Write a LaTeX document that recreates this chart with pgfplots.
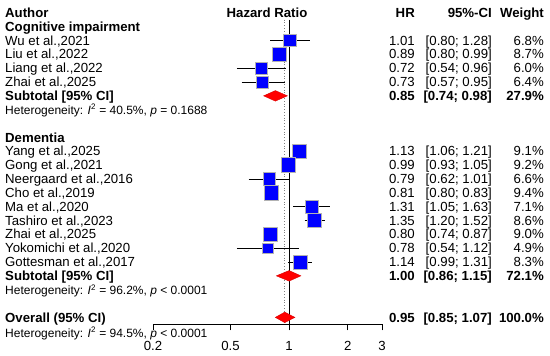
\documentclass[border=0pt]{standalone}
\usepackage{pgfplots}
\pgfplotsset{compat=1.18}
\usepackage{fontspec}
\setmainfont{Liberation Sans}
\newcommand{\mf}{\fontsize{13.2}{15}\selectfont}
\newcommand{\hf}{\fontsize{12}{14}\selectfont}
\newcommand{\B}[1]{338.6-13.85*#1}
% hr, lo, hi, row, half side, whisker colour
\newcommand{\study}[6]{%
 \addplot[only marks, mark=square*, mark size=#5pt, mark options={fill=blue, draw=gray!60, line width=0.6pt}] coordinates {(#1,-#4)};
 \addplot[#6, mark=none, line width=0.8pt] coordinates {(#2,-#4) (#3,-#4)};
}
\newcommand{\diam}[4]{% est lo hi row
 \addplot[fill=red, draw=red!85!black, line width=0.4pt, mark=none] coordinates {(#2,-#4) (#1,{-#4+0.38}) (#3,-#4) (#1,{-#4-0.38})} --cycle;
}
\newcommand{\trow}[5]{%
 \node[anchor=base west, inner sep=0, font=\mf] at (5,{\B{#1}}) {#2};
 \node[anchor=base east, inner sep=0, font=\mf] at (415,{\B{#1}}) {#3};
 \node[anchor=base east, inner sep=0, font=\mf] at (492,{\B{#1}}) {#4};
 \node[anchor=base east, inner sep=0, font=\mf] at (544,{\B{#1}}) {#5};
}
\newcommand{\het}[2]{%
 \node[anchor=base west, inner sep=0, font=\hf] at (5,{\B{#1}}) {#2};
}
\begin{document}
\begin{tikzpicture}[x=1pt,y=1pt]
\useasboundingbox (0,0) rectangle (550,356);
\begin{axis}[
 at={(153pt,31.7pt)}, anchor=south west, scale only axis,
 width=229pt, height=304.6pt,
 xmode=log, xmin=0.2, xmax=3, ymin=-22.5, ymax=-0.5,
 axis x line*=bottom, axis y line=none,
 xtick={0.2,0.5,1,2,3}, xticklabels={0.2,0.5,1,2,3}, minor xtick={},
 xtick align=outside, major tick length=6pt,
 x axis line style={line width=0.8pt},
 every tick/.style={black, line width=0.8pt},
 xticklabel style={font=\mf, anchor=base, yshift=-20.5pt},
 ytick=\empty, clip=false,
]
\addplot[black, line width=0.8pt, mark=none] coordinates {(1,-0.5) (1,-22.5)};
\addplot[gray, dotted, line width=0.8pt, mark=none] coordinates {(0.95,-0.5) (0.95,-22.5)};
\study{1.01}{0.80}{1.28}{2}{6.26}{black}
\study{0.89}{0.80}{0.99}{3}{7.08}{white}
\study{0.72}{0.54}{0.96}{4}{5.88}{black}
\study{0.73}{0.57}{0.95}{5}{6.07}{black}
\diam{0.85}{0.74}{0.98}{6}
\study{1.13}{1.06}{1.21}{10}{7.24}{white}
\study{0.99}{0.93}{1.05}{11}{7.28}{white}
\study{0.79}{0.62}{1.01}{12}{6.17}{black}
\study{0.81}{0.80}{0.83}{13}{7.36}{white}
\study{1.31}{1.05}{1.63}{14}{6.39}{black}
\study{1.35}{1.20}{1.52}{15}{7.04}{black}
\study{0.80}{0.74}{0.87}{16}{7.20}{white}
\study{0.78}{0.54}{1.12}{17}{5.31}{black}
\study{1.14}{0.99}{1.31}{18}{6.91}{black}
\diam{1.00}{0.86}{1.15}{19}
\diam{0.95}{0.85}{1.07}{22}
\end{axis}
\trow{0}{\textbf{Author}}{\textbf{HR}}{\textbf{95\%-CI}}{\textbf{Weight}}
\node[anchor=base, inner sep=0, font=\mf] at (267,{\B{0}}) {\textbf{Hazard Ratio}};
\node[anchor=base west, inner sep=0, font=\mf] at (5,{\B{1}}) {\textbf{Cognitive impairment}};
\trow{2}{Wu et al.,2021}{1.01}{[0.80; 1.28]}{6.8\%}
\trow{3}{Liu et al.,2022}{0.89}{[0.80; 0.99]}{8.7\%}
\trow{4}{Liang et al.,2022}{0.72}{[0.54; 0.96]}{6.0\%}
\trow{5}{Zhai et al.,2025}{0.73}{[0.57; 0.95]}{6.4\%}
\trow{6}{\textbf{Subtotal [95\% CI]}}{\textbf{0.85}}{\textbf{[0.74; 0.98]}}{\textbf{27.9\%}}
\het{7}{Heterogeneity: \textit{I}\textsuperscript{2} = 40.5\%, \textit{p} = 0.1688}
\node[anchor=base west, inner sep=0, font=\mf] at (5,{\B{9}}) {\textbf{Dementia}};
\trow{10}{Yang et al.,2025}{1.13}{[1.06; 1.21]}{9.1\%}
\trow{11}{Gong et al.,2021}{0.99}{[0.93; 1.05]}{9.2\%}
\trow{12}{Neergaard et al.,2016}{0.79}{[0.62; 1.01]}{6.6\%}
\trow{13}{Cho et al.,2019}{0.81}{[0.80; 0.83]}{9.4\%}
\trow{14}{Ma et al.,2020}{1.31}{[1.05; 1.63]}{7.1\%}
\trow{15}{Tashiro et al.,2023}{1.35}{[1.20; 1.52]}{8.6\%}
\trow{16}{Zhai et al.,2025}{0.80}{[0.74; 0.87]}{9.0\%}
\trow{17}{Yokomichi et al.,2020}{0.78}{[0.54; 1.12]}{4.9\%}
\trow{18}{Gottesman et al.,2017}{1.14}{[0.99; 1.31]}{8.3\%}
\trow{19}{\textbf{Subtotal [95\% CI]}}{\textbf{1.00}}{\textbf{[0.86; 1.15]}}{\textbf{72.1\%}}
\het{20}{Heterogeneity: \textit{I}\textsuperscript{2} = 96.2\%, \textit{p} {\textless} 0.0001}
\trow{22}{\textbf{Overall (95\% CI)}}{\textbf{0.95}}{\textbf{[0.85; 1.07]}}{\textbf{100.0\%}}
\het{23.1}{Heterogeneity: \textit{I}\textsuperscript{2} = 94.5\%, \textit{p} {\textless} 0.0001}
\end{tikzpicture}
\end{document}
